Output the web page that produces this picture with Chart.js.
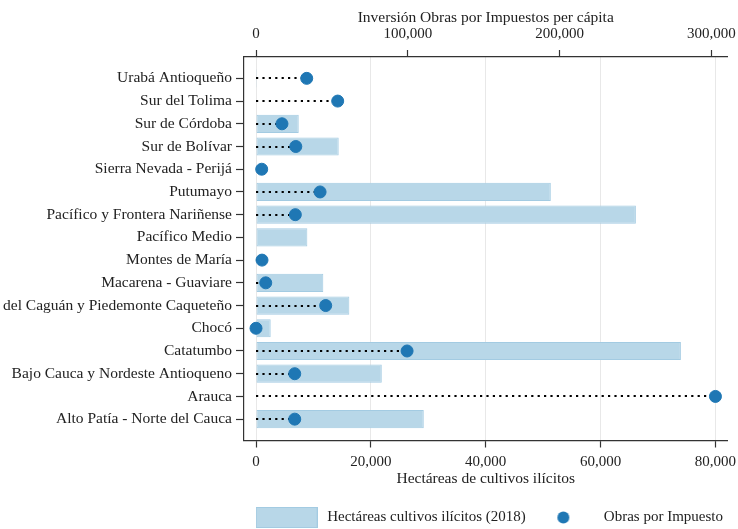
<!DOCTYPE html>
<html>
<head>
<meta charset="utf-8">
<script src="https://cdn.jsdelivr.net/npm/chart.js@4.4.1/dist/chart.umd.min.js"></script>
<style>
  html, body { margin: 0; padding: 0; background: #fff; }
  #wrap { width: 738px; height: 529px; }
</style>
</head>
<body>
<div id="wrap"><canvas id="chart"></canvas></div>
<script>
// PDET subregions, top to bottom
const regions = [
  'Urabá Antioqueño', 'Sur del Tolima', 'Sur de Córdoba', 'Sur de Bolívar',
  'Sierra Nevada - Perijá', 'Putumayo', 'Pacífico y Frontera Nariñense',
  'Pacífico Medio', 'Montes de María', 'Macarena - Guaviare',
  'Cuenca del Caguán y Piedemonte Caqueteño', 'Chocó', 'Catatumbo',
  'Bajo Cauca y Nordeste Antioqueno', 'Arauca', 'Alto Patía - Norte del Cauca'
];
// hectares of illicit crops (2018)
const hectareas = [150, 0, 7440, 14400, 100, 51330, 66140, 8940, 0, 11720, 16250, 2560, 73980, 21900, 100, 29210];
// Obras por Impuestos investment per capita (null = none)
const obrasPerCapita = [33400, 53800, 17100, 26200, 3750, 42200, 25900, null, 3950, 6400, 45900, 0, 99500, 25500, 302600, 25500];

const hectTicks = [0, 20000, 40000, 60000, 80000];
const obrasTicks = [0, 100000, 200000, 300000];

const labelHect = 'Hectáreas cultivos ilícitos (2018)';
const labelObras = 'Obras por Impuesto';

const FONT = '"Liberation Serif", "DejaVu Serif", serif';
const INK = '#222';
const BAR_FILL = '#b8d7e8';
const BAR_EDGE = '#a3cbe2';
const DOT = '#1f77b4';

const fmt = v => Number(v).toLocaleString('en-US');
const fixedTicks = values => scale => { scale.ticks = values.map(v => ({value: v})); };
// let tick labels hang past the plot edge instead of shrinking it
const fixedHeight = h => scale => { scale.height = h; scale.paddingLeft = 0; scale.paddingRight = 0; };

// legend swatches as small canvases so both keys get the same wide box
function swatch(kind) {
  const c = document.createElement('canvas');
  c.width = 62; c.height = 21;
  const g = c.getContext('2d');
  if (kind === 'bar') {
    g.fillStyle = BAR_FILL; g.fillRect(0, 0, 62, 21);
    g.strokeStyle = BAR_EDGE; g.lineWidth = 1; g.strokeRect(0.5, 0.5, 61, 20);
  } else {
    g.fillStyle = DOT; g.beginPath(); g.arc(31, 10.5, 6, 0, Math.PI * 2); g.fill();
  }
  return c;
}
const swatches = [swatch('bar'), swatch('dot')];

// dotted leader from 0 to each dot, drawn above bars and below dots
const dotLeaders = {
  id: 'dotLeaders',
  beforeDatasetDraw(chart, args) {
    if (args.index !== 1) return;
    const {ctx, scales: {x2, y}} = chart;
    ctx.save();
    ctx.strokeStyle = '#000';
    ctx.lineWidth = 2.2;
    ctx.setLineDash([2.2, 4.2]);
    obrasPerCapita.forEach((v, i) => {
      if (v == null) return;
      const py = Math.round(y.getPixelForValue(i));
      ctx.beginPath();
      ctx.moveTo(x2.getPixelForValue(0), py);
      ctx.lineTo(x2.getPixelForValue(v), py);
      ctx.stroke();
    });
    ctx.restore();
  }
};

new Chart(document.getElementById('chart'), {
  type: 'bar',
  data: {
    datasets: [{
      type: 'bar',
      label: labelHect,
      data: hectareas.map((v, i) => ({x: v, y: i})),
      backgroundColor: BAR_FILL,
      borderColor: BAR_EDGE,
      borderWidth: 1,
      borderSkipped: false,
      barPercentage: 0.8,
      categoryPercentage: 1,
      xAxisID: 'x',
      yAxisID: 'y',
      order: 1
    }, {
      type: 'scatter',
      label: labelObras,
      data: obrasPerCapita.map((v, i) => ({x: v, y: i})).filter(p => p.x != null),
      backgroundColor: DOT,
      borderColor: DOT,
      pointRadius: 6,
      pointHoverRadius: 6,
      xAxisID: 'x2',
      yAxisID: 'y',
      order: 0
    }]
  },
  options: {
    indexAxis: 'y',
    responsive: true,
    maintainAspectRatio: false,
    animation: false,
    // legend's empty lower padding is pushed below the canvas edge
    layout: { padding: { left: 0, right: 10.5, top: 0, bottom: -6 } },
    plugins: {
      tooltip: { enabled: false },
      legend: {
        position: 'bottom',
        align: 'end',
        labels: {
          usePointStyle: true,
          pointStyleWidth: 66,
          padding: 4.5,
          color: INK,
          font: { family: FONT, size: 15 },
          generateLabels(chart) {
            return chart.data.datasets.map((ds, i) => ({
              text: ds.label,
              pointStyle: swatches[i],
              fillStyle: 'transparent',
              strokeStyle: 'transparent',
              lineWidth: 0,
              fontColor: INK,
              datasetIndex: i,
              hidden: false
            }));
          }
        }
      }
    },
    scales: {
      y: {
        type: 'linear',
        position: 'left',
        reverse: true,
        offset: false,
        bounds: 'data',
        min: -0.94,
        max: 15.94,
        afterBuildTicks: fixedTicks(regions.map((_, i) => i)),
        afterFit(s) { s.width = 244; },
        grid: { offset: false, drawOnChartArea: false, tickLength: 8, tickColor: '#333', tickWidth: 1.2 },
        border: { color: '#333', width: 1.2 },
        ticks: {
          autoSkip: false,
          padding: 4,
          color: INK,
          font: { family: FONT, size: 15.5 },
          callback: v => regions[v] ?? ''
        }
      },
      x: {
        type: 'linear',
        position: 'bottom',
        bounds: 'data',
        min: -2090,
        max: 82093,
        afterBuildTicks: fixedTicks(hectTicks),
        afterFit: fixedHeight(65),
        grid: { color: '#e8e8e8', lineWidth: 1, tickLength: 7, tickColor: '#333', tickWidth: 1.2 },
        border: { color: '#333', width: 1.2 },
        ticks: {
          padding: 6,
          color: INK,
          font: { family: FONT, size: 15 },
          callback: v => fmt(v)
        },
        title: {
          display: true,
          text: 'Hectáreas de cultivos ilícitos',
          color: INK,
          font: { family: FONT, size: 15.5 },
          padding: { top: 0, bottom: 17.5 }
        }
      },
      x2: {
        type: 'linear',
        position: 'top',
        bounds: 'data',
        min: -7907,
        max: 310543,
        afterBuildTicks: fixedTicks(obrasTicks),
        afterFit: fixedHeight(57),
        grid: { drawOnChartArea: false, tickLength: 7, tickColor: '#333', tickWidth: 1.2 },
        border: { color: '#333', width: 1.2 },
        ticks: {
          padding: 7,
          color: INK,
          font: { family: FONT, size: 15 },
          callback: v => fmt(v)
        },
        title: {
          display: true,
          text: 'Inversión Obras por Impuestos per cápita',
          color: INK,
          font: { family: FONT, size: 15.5 },
          padding: { top: 8.5, bottom: 0 }
        }
      }
    }
  },
  plugins: [dotLeaders]
});
</script>
</body>
</html>
